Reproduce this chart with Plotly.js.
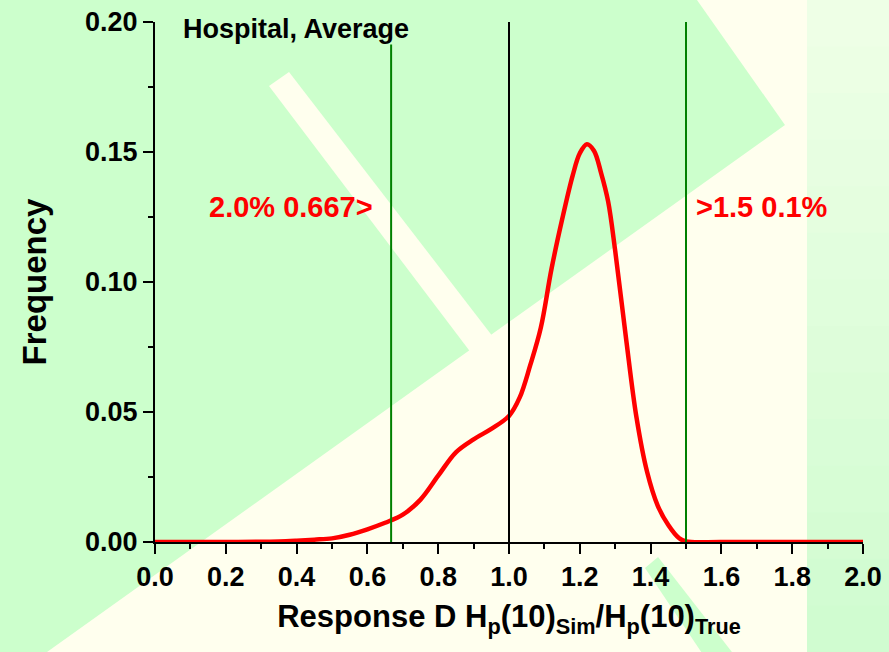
<!DOCTYPE html>
<html>
<head>
<meta charset="utf-8">
<script src="https://cdn.plot.ly/plotly-3.0.1.min.js"></script>
<style>html,body{margin:0;padding:0;background:#FFFFEE;}#chart{width:889px;height:652px;}</style>
</head>
<body>
<div id="chart"></div>
<script>
// ---- data ----
const ratio = [0, 0.1, 0.2, 0.3, 0.35, 0.4, 0.45, 0.5, 0.55, 0.6, 0.65, 0.7, 0.75, 0.8, 0.85, 0.9, 0.95, 1.0, 1.03, 1.06, 1.09, 1.12, 1.15, 1.18, 1.2, 1.22, 1.24, 1.26, 1.28, 1.3, 1.33, 1.36, 1.39, 1.42, 1.45, 1.48, 1.5, 1.6, 1.8, 2.0];
const frequency = [0, 0, 0, 0.0001, 0.0002, 0.0005, 0.0009, 0.0014, 0.0028, 0.0049, 0.0074, 0.0105, 0.0163, 0.0255, 0.0345, 0.0395, 0.0435, 0.0485, 0.0555, 0.068, 0.0825, 0.105, 0.124, 0.141, 0.1495, 0.153, 0.1505, 0.142, 0.131, 0.112, 0.079, 0.048, 0.027, 0.014, 0.0065, 0.0015, 0.0002, 0, 0, 0];
const lowerLimit = 0.667;
const reference = 1.0;
const upperLimit = 1.5;
const lowerLabel = '2.0% 0.667>';
const upperLabel = '>1.5 0.1%';
const panelLabel = 'Hospital, Average';
const xTickVals = [0, 0.2, 0.4, 0.6, 0.8, 1.0, 1.2, 1.4, 1.6, 1.8, 2.0];
const yTickVals = [0, 0.05, 0.10, 0.15, 0.20];

// ---- decoration (background pattern, in pixel -> paper) ----
const L = 155, R = 863, T = 22, B = 542;
const px = x => (x - L) / (R - L);
const py = y => (B - y) / (B - T);
function poly(pts, color) {
  const d = pts.map((p, i) => (i ? 'L' : 'M') + px(p[0]).toFixed(4) + ',' + py(p[1]).toFixed(4)).join(' ') + ' Z';
  return {type: 'path', xref: 'paper', yref: 'paper', path: d, fillcolor: color, line: {width: 0}, layer: 'below'};
}
const GREEN = '#CCFFCC', CREAM = '#FFFFEE';
const shapes = [];
shapes.push(poly([[0, 0], [697, 0], [785, 125], [47, 652], [0, 652]], GREEN));
shapes.push(poly([[269, 86], [289, 72], [500, 346], [478, 362]], CREAM));
shapes.push(poly([[645, 568], [658, 557], [742, 665], [720, 680]], GREEN));
const steps = 14;
for (let i = 0; i < steps; i++) {
  const t = i / (steps - 1);
  const r = Math.round(238 + (208 - 238) * t), g = Math.round(255 + (252 - 255) * t), b = Math.round(230 + (208 - 230) * t);
  const y0 = i * 652 / steps, y1 = (i + 1) * 652 / steps + 1;
  shapes.push({type: 'rect', xref: 'paper', yref: 'paper', x0: px(807), x1: px(900), y0: py(y1), y1: py(y0),
    fillcolor: `rgb(${r},${g},${b})`, line: {width: 0}, layer: 'below'});
}

const FONT = 'Liberation Sans, Arial, sans-serif';

const traces = [
  {x: ratio, y: frequency, type: 'scatter', mode: 'lines', line: {color: '#FF0000', width: 4.5, shape: 'spline', smoothing: 1}, hoverinfo: 'x+y'},
  {x: [lowerLimit, lowerLimit], y: [0, 0.2], type: 'scatter', mode: 'lines', line: {color: '#008000', width: 2}},
  {x: [reference, reference], y: [0, 0.2], type: 'scatter', mode: 'lines', line: {color: '#000000', width: 2}},
  {x: [upperLimit, upperLimit], y: [0, 0.2], type: 'scatter', mode: 'lines', line: {color: '#008000', width: 2}}
];

const axisCommon = {
  showline: true, linecolor: '#000', linewidth: 2, ticks: 'outside', ticklen: 10, tickwidth: 2, tickcolor: '#000',
  showgrid: false, zeroline: false, mirror: false,
  tickfont: {family: FONT, size: 27, color: '#000', weight: 'bold'}
};

const layout = {
  width: 889, height: 652,
  margin: {l: L, r: 889 - R, t: T, b: 652 - B},
  paper_bgcolor: CREAM, plot_bgcolor: 'rgba(0,0,0,0)',
  showlegend: false,
  font: {family: FONT, color: '#000'},
  xaxis: Object.assign({}, axisCommon, {
    range: [0, 2], tickvals: xTickVals, tickformat: '.1f',
    minor: {ticks: 'outside', ticklen: 5, tickwidth: 2, tickcolor: '#000', dtick: 0.1},
    title: {text: 'Response D H<sub>p</sub>(10)<sub>Sim</sub>/H<sub>p</sub>(10)<sub>True</sub>',
            font: {family: FONT, size: 31, color: '#000', weight: 'bold'}, standoff: 14}
  }),
  yaxis: Object.assign({}, axisCommon, {
    range: [0, 0.2], tickvals: yTickVals, tickformat: '.2f',
    minor: {ticks: 'outside', ticklen: 5, tickwidth: 2, tickcolor: '#000', dtick: 0.025},
    title: {text: 'Frequency', font: {family: FONT, size: 33, color: '#000', weight: 'bold'}, standoff: 28}
  }),
  shapes: shapes,
  annotations: [
    {text: panelLabel, xref: 'paper', yref: 'paper', x: px(182), y: py(29), xanchor: 'left', yanchor: 'middle',
     showarrow: false, bgcolor: GREEN, borderpad: 0, font: {family: FONT, size: 27, color: '#000', weight: 'bold'}},
    {text: lowerLabel, xref: 'x', yref: 'y', x: lowerLimit, y: 0.1288, xanchor: 'right', yanchor: 'middle', xshift: -16,
     showarrow: false, font: {family: FONT, size: 29, color: '#FF0000', weight: 'bold'}},
    {text: upperLabel, xref: 'x', yref: 'y', x: upperLimit, y: 0.1288, xanchor: 'left', yanchor: 'middle', xshift: 8,
     showarrow: false, font: {family: FONT, size: 29, color: '#FF0000', weight: 'bold'}}
  ]
};

Plotly.newPlot('chart', traces, layout, {displayModeBar: false, staticPlot: true});
</script>
</body>
</html>
